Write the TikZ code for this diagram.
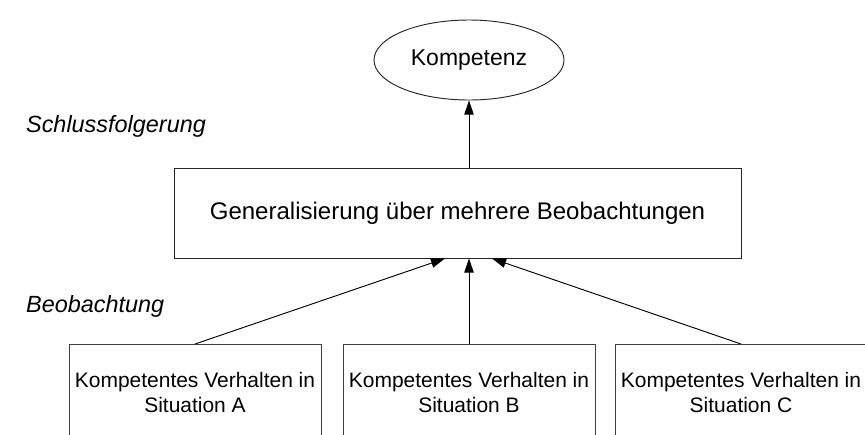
\documentclass[tikz,border=0pt]{standalone}
\usepackage{fontspec}
\setmainfont{Liberation Sans}
\usepackage{tikz}
\usetikzlibrary{arrows.meta,calc,shapes.geometric,positioning}
\tikzset{
  kp/.style={ellipse,draw=black!85,fill=white,minimum width=5.7cm,minimum height=2.4cm,inner sep=0pt,line width=.8pt,font=\fontsize{19.6}{23}\selectfont},
  gbx/.style={rectangle,draw=black!85,fill=white,minimum width=17.01cm,minimum height=2.7cm,inner sep=0pt,line width=.8pt,font=\fontsize{20.5}{24}\selectfont},
  sbx/.style={rectangle,draw=black!75,fill=white,minimum width=7.56cm,minimum height=2.88cm,inner sep=0pt,line width=.8pt,align=center,font=\fontsize{17.9}{21.3}\selectfont},
  up/.style={-{Triangle[length=12pt,width=8pt]},line width=.8pt,draw=black},
  lv/.style={font=\fontsize{20}{24}\selectfont\itshape},
}
\begin{document}
\begin{tikzpicture}[x=0.03cm,y=-0.03cm]
\useasboundingbox (0,0) rectangle (865,434);
\clip (0,0) rectangle (865,434);
% --- levels
\node[lv,anchor=base west] (lvs) at (22,132) {Schlussfolgerung};
\node[lv,anchor=base west] (lvb) at (22,312) {Beobachtung};
% --- competence and generalisation
\node[kp] (komp) at (469,60) {Kompetenz};
\node[gbx] (gen) at (457.5,213) {Generalisierung über mehrere Beobachtungen};
% --- observed situations (cut off at the bottom)
\node[sbx,anchor=north] (sitA) at (195,344) {Kompetentes Verhalten in\\ Situation A};
\node[sbx,anchor=north] (sitB) at (469,344) {Kompetentes Verhalten in\\ Situation B};
\node[sbx,anchor=north] (sitC) at (741,344) {Kompetentes Verhalten in\\ Situation C};
% --- arrows
\draw[up] (gen.north -| komp.south) -- (komp.south);
\draw[up] (sitA.north) -- ($(gen.south -| sitB.north)+(-24,0)$);
\draw[up] (sitB.north) -- (gen.south -| sitB.north);
\draw[up] (sitC.north) -- ($(gen.south -| sitB.north)+(23,0)$);
\end{tikzpicture}
\end{document}
